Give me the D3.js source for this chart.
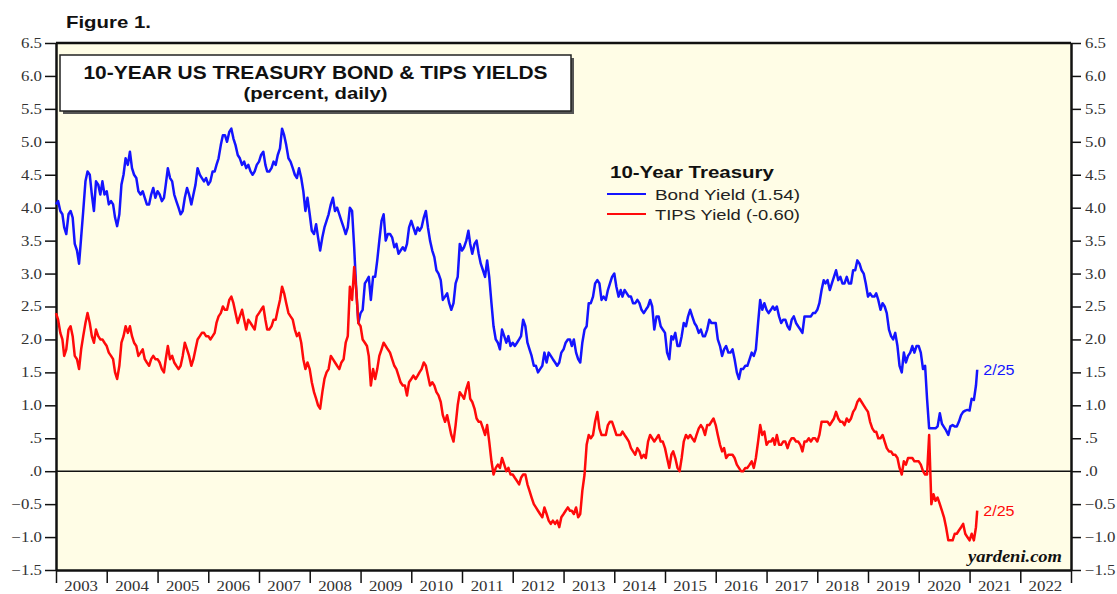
<!DOCTYPE html>
<html>
<head>
<meta charset="utf-8">
<script src="https://cdn.jsdelivr.net/npm/d3@7/dist/d3.min.js"></script>
<style>
  body { margin: 0; background: #fff; }
  .sans { font-family: "Liberation Sans", Arial, sans-serif; }
  .serif { font-family: "Liberation Serif", "Times New Roman", serif; }
</style>
</head>
<body>
<div id="chart-area"></div>
<script>
// Semi-monthly observations (1st and 16th of each month), Jan 2003 .. Feb 2021
const startMonth = new Date(2003, 0, 1);
const lastDate = new Date(2021, 1, 25);

const bondYield = [
  4.05,4.10,3.95,3.90,3.70,3.60,3.90,3.95,3.85,3.45,3.35,3.15,3.55,3.95,4.40,4.55,4.50,4.20,3.95,4.40,4.35,4.20,4.40,4.20, // 2003
  4.25,4.05,4.10,4.05,3.85,3.72,3.90,4.35,4.50,4.75,4.65,4.85,4.60,4.50,4.45,4.25,4.20,4.25,4.15,4.05,4.05,4.20,4.30,4.15, // 2004
  4.25,4.20,4.10,4.15,4.35,4.60,4.45,4.40,4.20,4.10,4.00,3.90,3.95,4.15,4.30,4.20,4.05,4.20,4.35,4.60,4.50,4.45,4.40,4.45, // 2005
  4.35,4.40,4.55,4.55,4.65,4.75,4.95,5.10,5.10,5.00,5.15,5.20,5.05,4.95,4.80,4.75,4.65,4.70,4.60,4.65,4.55,4.50,4.55,4.65, // 2006
  4.70,4.80,4.85,4.65,4.55,4.55,4.60,4.70,4.65,4.80,4.90,5.20,5.10,4.95,4.75,4.70,4.60,4.50,4.45,4.60,4.45,4.25,3.95,4.15, // 2007
  3.90,3.65,3.60,3.75,3.55,3.35,3.55,3.70,3.80,3.90,4.05,4.15,3.95,4.00,3.90,3.80,3.70,3.60,3.70,4.00,3.95,3.40,2.75,2.25, // 2008
  2.40,2.45,2.85,2.90,2.95,2.60,2.95,2.95,3.20,3.50,3.80,3.90,3.50,3.60,3.60,3.55,3.40,3.45,3.30,3.35,3.40,3.35,3.45,3.70, // 2009
  3.80,3.70,3.60,3.70,3.65,3.70,3.85,3.95,3.70,3.50,3.35,3.25,3.05,3.00,2.90,2.60,2.65,2.70,2.55,2.45,2.55,2.85,2.95,3.45, // 2010
  3.35,3.40,3.50,3.65,3.45,3.30,3.45,3.50,3.30,3.15,3.05,2.95,3.20,2.95,2.55,2.20,2.00,1.95,1.85,2.15,2.05,1.95,2.05,1.90, // 2011
  1.95,1.90,1.95,2.00,2.05,2.30,2.20,1.95,1.85,1.75,1.60,1.60,1.50,1.55,1.60,1.80,1.65,1.80,1.75,1.70,1.65,1.60,1.65,1.80, // 2012
  1.85,1.95,2.00,2.00,1.90,2.00,1.80,1.70,1.65,1.95,2.15,2.20,2.55,2.55,2.65,2.85,2.90,2.85,2.60,2.65,2.60,2.75,2.85,2.95, // 2013
  3.00,2.80,2.65,2.75,2.65,2.75,2.70,2.65,2.65,2.55,2.55,2.60,2.55,2.45,2.40,2.45,2.50,2.60,2.50,2.15,2.35,2.35,2.20,2.15, // 2014
  2.10,1.80,1.70,2.05,2.00,2.10,1.90,1.90,2.05,2.25,2.20,2.35,2.45,2.35,2.25,2.20,2.10,2.15,2.05,2.05,2.15,2.30,2.25,2.25, // 2015
  2.25,2.00,1.90,1.75,1.85,1.90,1.80,1.80,1.85,1.70,1.50,1.40,1.55,1.55,1.60,1.60,1.70,1.80,1.75,1.85,2.25,2.60,2.45,2.55, // 2016
  2.45,2.40,2.45,2.50,2.45,2.50,2.35,2.25,2.30,2.30,2.20,2.15,2.30,2.35,2.25,2.20,2.15,2.10,2.35,2.35,2.35,2.35,2.40,2.40, // 2017
  2.45,2.55,2.75,2.90,2.85,2.90,2.75,2.85,2.95,3.05,2.90,2.95,2.85,2.85,2.95,2.85,2.85,3.05,3.05,3.20,3.15,3.05,3.00,2.85, // 2018
  2.65,2.70,2.65,2.65,2.70,2.60,2.45,2.55,2.50,2.40,2.15,2.05,2.00,2.10,1.90,1.60,1.50,1.80,1.65,1.75,1.80,1.90,1.80,1.90, // 2019
  1.90,1.80,1.55,1.60,1.10,0.65,0.65,0.65,0.65,0.68,0.88,0.72,0.67,0.62,0.55,0.68,0.70,0.68,0.68,0.75,0.85,0.90,0.92,0.93, // 2020
  0.92,1.10,1.08,1.30 // 2021
];
const tipsYield = [
  2.40,2.30,2.10,2.00,1.75,1.85,2.15,2.20,2.05,1.75,1.70,1.55,1.85,2.05,2.25,2.40,2.25,2.05,1.95,2.15,2.05,2.00,2.00,1.95, // 2003
  1.90,1.80,1.75,1.70,1.50,1.40,1.60,1.95,2.05,2.20,2.10,2.20,2.05,1.95,1.90,1.75,1.80,1.85,1.70,1.65,1.60,1.70,1.75,1.70, // 2004
  1.70,1.65,1.55,1.50,1.70,1.90,1.70,1.75,1.65,1.60,1.55,1.60,1.75,1.95,1.85,1.75,1.60,1.70,1.85,2.00,2.05,2.10,2.10,2.05, // 2005
  2.05,2.00,2.05,2.10,2.25,2.35,2.40,2.50,2.45,2.45,2.60,2.65,2.55,2.40,2.25,2.35,2.45,2.30,2.15,2.30,2.25,2.20,2.15,2.35, // 2006
  2.40,2.45,2.50,2.30,2.15,2.15,2.20,2.30,2.30,2.45,2.60,2.80,2.70,2.55,2.40,2.35,2.30,2.15,2.05,2.10,1.95,1.70,1.55,1.65, // 2007
  1.55,1.35,1.20,1.10,1.00,0.95,1.20,1.40,1.50,1.55,1.75,1.70,1.65,1.60,1.55,1.65,1.70,1.95,2.05,2.80,2.60,3.10,2.75,2.25, // 2008
  2.20,2.00,1.95,1.90,1.75,1.30,1.55,1.40,1.55,1.75,1.85,1.95,1.90,1.85,1.80,1.70,1.60,1.55,1.45,1.35,1.30,1.30,1.15,1.35, // 2009
  1.40,1.45,1.40,1.45,1.50,1.55,1.65,1.60,1.45,1.30,1.35,1.30,1.20,1.15,1.05,0.85,0.75,0.85,0.70,0.55,0.45,0.70,1.00,1.20, // 2010
  1.15,1.10,1.25,1.35,1.10,1.05,0.95,0.80,0.75,0.75,0.65,0.55,0.70,0.45,0.15,-0.05,0.05,0.10,0.05,0.20,0.10,0.00,0.05,-0.05, // 2011
  -0.05,-0.10,-0.15,-0.20,-0.10,-0.05,-0.05,-0.20,-0.30,-0.40,-0.50,-0.55,-0.60,-0.65,-0.70,-0.55,-0.65,-0.75,-0.80,-0.75,-0.80,-0.75,-0.85,-0.70, // 2012
  -0.65,-0.60,-0.55,-0.60,-0.60,-0.65,-0.55,-0.70,-0.65,-0.30,-0.05,0.40,0.55,0.50,0.55,0.75,0.90,0.65,0.55,0.55,0.55,0.70,0.75,0.75, // 2013
  0.65,0.55,0.55,0.55,0.60,0.55,0.50,0.45,0.35,0.30,0.25,0.35,0.30,0.20,0.25,0.20,0.45,0.55,0.50,0.45,0.50,0.55,0.45,0.45, // 2014
  0.35,0.20,0.05,0.25,0.30,0.20,0.05,0.00,0.20,0.45,0.55,0.50,0.55,0.50,0.45,0.55,0.65,0.70,0.65,0.55,0.70,0.70,0.75,0.80, // 2015
  0.70,0.55,0.40,0.30,0.35,0.20,0.25,0.25,0.25,0.20,0.10,0.05,0.00,0.00,0.05,0.05,0.10,0.15,0.05,0.20,0.45,0.70,0.55,0.60, // 2016
  0.40,0.45,0.45,0.50,0.40,0.55,0.40,0.40,0.45,0.45,0.35,0.45,0.50,0.50,0.45,0.45,0.40,0.30,0.45,0.45,0.50,0.45,0.50,0.50, // 2017
  0.45,0.55,0.75,0.75,0.75,0.75,0.70,0.75,0.80,0.90,0.80,0.75,0.75,0.70,0.80,0.75,0.80,0.90,0.95,1.05,1.10,1.05,1.00,0.95, // 2018
  0.90,0.75,0.65,0.60,0.60,0.50,0.50,0.55,0.45,0.35,0.30,0.30,0.25,0.25,0.20,0.05,-0.05,0.15,0.10,0.20,0.20,0.20,0.15,0.15, // 2019
  0.15,0.10,0.00,-0.05,-0.05,0.55,-0.50,-0.35,-0.45,-0.40,-0.50,-0.60,-0.70,-0.85,-1.05,-1.05,-1.05,-0.95,-0.95,-0.90,-0.85,-0.80,-0.95,-1.00, // 2020
  -1.05,-0.95,-1.05,-0.85 // 2021
];
const lastBond = 1.54;
const lastTips = -0.60;

const yTicks = [-1.5, -1.0, -0.5, 0, 0.5, 1.0, 1.5, 2.0, 2.5, 3.0, 3.5, 4.0, 4.5, 5.0, 5.5, 6.0, 6.5];
const years = d3.range(2003, 2023);
const legendLabels = ["Bond Yield (1.54)", "TIPS Yield (-0.60)"];
const seriesColors = ["#1414ff", "#ff0a0a"];

const margin = { left: 56, right: 46, top: 43, bottom: 24 },
    width = 1117 - margin.left - margin.right,
    height = 594 - margin.top - margin.bottom;

const svg = d3.select("#chart-area").append("svg")
    .attr("width", 1117)
    .attr("height", 594);

const g = svg.append("g")
    .attr("transform", "translate(" + margin.left + ", " + margin.top + ")");

// the source picture is stretched sideways, so widen text to match
function stretch(sel, k) {
    sel.each(function () {
        const w = this.getComputedTextLength();
        d3.select(this).attr("textLength", w * k).attr("lengthAdjust", "spacingAndGlyphs");
    });
}

// build date/value rows
const dateAt = (i) => new Date(startMonth.getFullYear(), startMonth.getMonth() + Math.floor(i / 2), i % 2 ? 16 : 1);
const bondData = bondYield.map((v, i) => ({ date: dateAt(i), value: v }));
bondData.push({ date: lastDate, value: lastBond });
const tipsData = tipsYield.map((v, i) => ({ date: dateAt(i), value: v }));
tipsData.push({ date: lastDate, value: lastTips });

const x = d3.scaleTime()
    .domain([new Date(2003, 0, 1), new Date(2023, 0, 1)])
    .range([0, width]);
const y = d3.scaleLinear().domain([-1.5, 6.5]).range([height, 0]);

// plot background
g.append("rect")
    .attr("width", width)
    .attr("height", height)
    .attr("fill", "#fffde6");

const fmt = (d) => d3.format(".1f")(d).replace(/^(-?)0\./, "$1.");

// Axes
const yAxisLeft = g.append("g")
    .call(d3.axisLeft(y).tickValues(yTicks).tickSize(11).tickSizeOuter(0).tickFormat(fmt));
const yAxisRight = g.append("g")
    .attr("transform", "translate(" + width + ",0)")
    .call(d3.axisRight(y).tickValues(yTicks).tickSize(10).tickSizeOuter(0).tickFormat(fmt));
const xAxis = g.append("g")
    .attr("transform", "translate(0," + height + ")")
    .call(d3.axisBottom(x)
        .tickValues(d3.range(2003, 2024).map((yr) => new Date(yr, 0, 1)))
        .tickSize(13).tickSizeOuter(0).tickFormat(""));

[yAxisLeft, yAxisRight, xAxis].forEach((a) => {
    a.select(".domain").attr("stroke", "#111").attr("stroke-width", 2.5);
    a.selectAll(".tick line").attr("stroke", "#111").attr("stroke-width", 1.5);
});
[yAxisLeft, yAxisRight].forEach((a) => {
    a.selectAll(".tick text")
        .attr("class", "serif")
        .attr("font-size", 14)
        .attr("fill", "#333");
});
yAxisLeft.selectAll(".tick text").attr("x", -14);
yAxisRight.selectAll(".tick text").attr("x", 14);
stretch(yAxisLeft.selectAll(".tick text"), 1.2);
stretch(yAxisRight.selectAll(".tick text"), 1.2);

// year labels between ticks
xAxis.selectAll(".year")
    .data(years)
    .enter().append("text")
    .attr("class", "year serif")
    .attr("x", (d) => x(new Date(d, 6, 1)))
    .attr("y", 21)
    .attr("text-anchor", "middle")
    .attr("font-size", 14)
    .attr("fill", "#333")
    .text((d) => d);
stretch(xAxis.selectAll(".year"), 1.2);

// top frame
g.append("line")
    .attr("x1", 0).attr("x2", width)
    .attr("y1", 0).attr("y2", 0)
    .attr("stroke", "#111").attr("stroke-width", 2.5);

// zero line
g.append("line")
    .attr("x1", 0).attr("x2", width)
    .attr("y1", y(0)).attr("y2", y(0))
    .attr("stroke", "#111").attr("stroke-width", 1.5);

// Lines
const line = d3.line()
    .x((d) => x(d.date))
    .y((d) => y(d.value));

[bondData, tipsData].forEach((data, i) => {
    g.append("path")
        .datum(data)
        .attr("fill", "none")
        .attr("stroke", seriesColors[i])
        .attr("stroke-width", 2.5)
        .attr("stroke-linejoin", "round")
        .attr("d", line);
});

// end labels
[lastBond, lastTips].forEach((v, i) => {
    g.append("text").attr("class", "sans end-label")
        .attr("x", x(lastDate) + 6).attr("y", y(v) + 5)
        .attr("font-size", 14).attr("fill", seriesColors[i])
        .text("2/25");
});
stretch(g.selectAll(".end-label"), 1.15);

// Title box
const box = { x: 60, y: 55, w: 511, h: 56 };
svg.append("rect")
    .attr("x", box.x + 3).attr("y", box.y + 3)
    .attr("width", box.w).attr("height", box.h)
    .attr("fill", "#555");
svg.append("rect")
    .attr("x", box.x).attr("y", box.y)
    .attr("width", box.w).attr("height", box.h)
    .attr("fill", "#fff")
    .attr("stroke", "#222").attr("stroke-width", 1.5);
svg.append("text").attr("class", "sans")
    .attr("x", box.x + box.w / 2).attr("y", box.y + 24)
    .attr("text-anchor", "middle")
    .attr("font-size", 18).attr("font-weight", "bold").attr("fill", "#111")
    .attr("textLength", 464).attr("lengthAdjust", "spacingAndGlyphs")
    .text("10-YEAR US TREASURY BOND & TIPS YIELDS");
svg.append("text").attr("class", "sans")
    .attr("x", box.x + box.w / 2).attr("y", box.y + 44)
    .attr("text-anchor", "middle")
    .attr("font-size", 16).attr("font-weight", "bold").attr("fill", "#111")
    .attr("textLength", 144).attr("lengthAdjust", "spacingAndGlyphs")
    .text("(percent, daily)");

// Figure label
svg.append("text").attr("class", "sans")
    .attr("x", 66).attr("y", 28)
    .attr("font-size", 17).attr("font-weight", "bold").attr("fill", "#111")
    .attr("textLength", 85).attr("lengthAdjust", "spacingAndGlyphs")
    .text("Figure 1.");

// Legend
svg.append("text").attr("class", "sans")
    .attr("x", 610).attr("y", 178)
    .attr("font-size", 17).attr("font-weight", "bold").attr("fill", "#111")
    .attr("textLength", 164).attr("lengthAdjust", "spacingAndGlyphs")
    .text("10-Year Treasury");
legendLabels.forEach((label, i) => {
    const ly = 194 + i * 20;
    svg.append("line")
        .attr("x1", 607).attr("x2", 646)
        .attr("y1", ly).attr("y2", ly)
        .attr("stroke", seriesColors[i]).attr("stroke-width", 2);
    svg.append("text").attr("class", "sans")
        .attr("x", 655).attr("y", ly + 6)
        .attr("font-size", 15).attr("fill", "#222")
        .attr("textLength", 145).attr("lengthAdjust", "spacingAndGlyphs")
        .text(label);
});

// source
g.append("text").attr("class", "serif")
    .attr("x", width - 9).attr("y", height - 8)
    .attr("text-anchor", "end")
    .attr("font-size", 16).attr("font-weight", "bold").attr("font-style", "italic")
    .attr("fill", "#111")
    .attr("textLength", 94).attr("lengthAdjust", "spacingAndGlyphs")
    .text("yardeni.com");
</script>
</body>
</html>
